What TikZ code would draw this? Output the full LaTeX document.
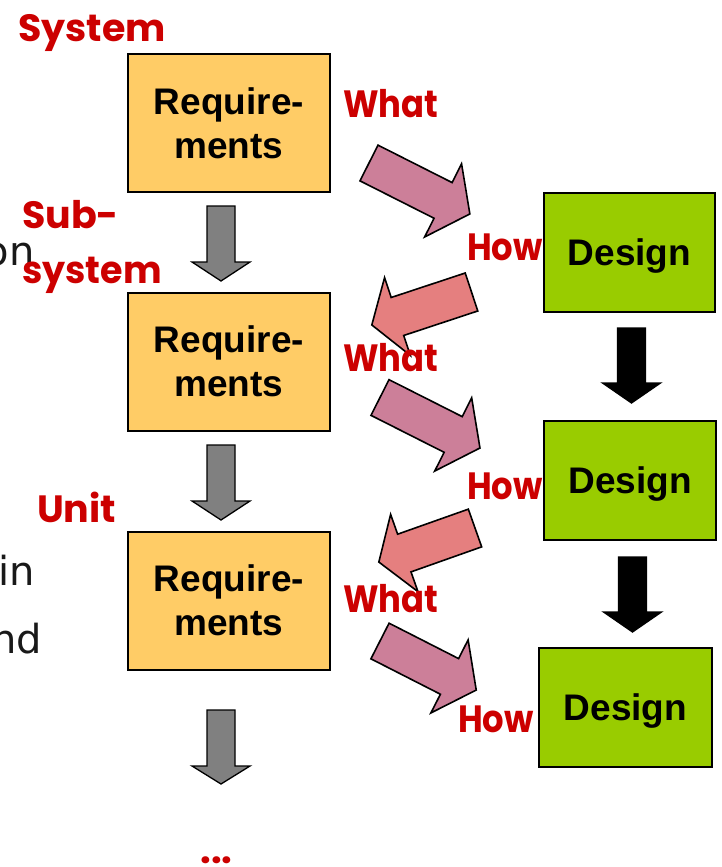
\documentclass[tikz,border=0pt]{standalone}
\usepackage{fontspec}
\setmainfont{Liberation Sans}
\newfontfamily\comicfont{Poppins}
\newfontfamily\leftfont{DejaVu Sans}
\definecolor{reqfill}{HTML}{FFCC66}
\definecolor{desfill}{HTML}{99CC00}
\definecolor{pinkarr}{HTML}{CC7F99}
\definecolor{salmonarr}{HTML}{E57F7F}
\definecolor{grayarr}{HTML}{808080}
\definecolor{redtxt}{HTML}{CC0000}
\newcommand\myblockarrow[6]{% tail x, tail y, angle, length, head base, fill
  \begin{scope}[shift={(#1,#2)},rotate=#3]
    \draw[fill=#6,line width=1.6pt,line join=miter]
      (0,-20) -- (#5,-20) -- (#5,-41) -- (#4,0) -- (#5,41) -- (#5,20) -- (0,20) -- cycle;
  \end{scope}}
\newcommand\mydownarrow[5]{% center x, top y, head base y, tip y, fill
  \draw[fill=#5,line width=1.3pt,line join=miter]
    ({#1-14},#2) -- ({#1+14},#2) -- ({#1+14},#3) -- ({#1+29},#3) -- (#1,#4)
    -- ({#1-29},#3) -- ({#1-14},#3) -- cycle;}
\newcommand\narrow[1]{\scalebox{0.89}[1]{#1}}
\tikzset{
  reqbox/.style={draw=black,line width=2pt,fill=reqfill,minimum width=202pt,minimum height=138pt,
    align=center,font=\fontsize{37}{44}\selectfont\bfseries,inner sep=0pt},
  desbox/.style={draw=black,line width=2pt,fill=desfill,minimum height=119pt,
    font=\fontsize{37}{44}\selectfont\bfseries,inner sep=0pt,text depth=0pt},
  redlbl/.style={text=redtxt,font=\fontsize{38}{42}\selectfont\comicfont\bfseries,inner sep=0pt},
  lefttxt/.style={text=black!90,font=\fontsize{40}{44}\selectfont\leftfont,inner sep=0pt,anchor=base east}
}
\begin{document}
\begin{tikzpicture}[x=1pt,y=-1pt]
\useasboundingbox (0,0) rectangle (721,867);
% left cut-off text
\node[lefttxt] (ton) at (35,265) {on};
\node[lefttxt] (tin) at (35,585) {in};
\node[lefttxt] (tnd) at (42,653) {nd};
% requirement boxes
\node[reqbox] (r1) at (229,123) {Require-\\ments};
\node[reqbox] (r2) at (229,361.5) {Require-\\ments};
\node[reqbox] (r3) at (229,600.5) {Require-\\ments};
% design boxes
\node[desbox,minimum width=171pt] (d1) at (629.5,252.5) {Design};
\node[desbox,minimum width=172pt] (d2) at (630,480.5) {Design};
\node[desbox,minimum width=173pt] (d3) at (625.5,707.5) {Design};
% gray down arrows
\mydownarrow{221}{206}{262}{281}{grayarr}
\mydownarrow{221}{445}{501}{520}{grayarr}
\mydownarrow{221}{710}{766}{784}{grayarr}
% black down arrows
\mydownarrow{631.5}{328}{383}{403}{black}
\mydownarrow{632.5}{557}{612}{632}{black}
% what/how block arrows
\myblockarrow{369}{163}{-26.8}{113}{83}{pinkarr}
\myblockarrow{471.5}{292}{198.3}{105}{78}{salmonarr}
\myblockarrow{380}{397.5}{-26.8}{112}{82}{pinkarr}
\myblockarrow{475}{528}{199.5}{102}{75}{salmonarr}
\myblockarrow{380}{641}{-27}{108}{78}{pinkarr}
% red labels
\node[redlbl,anchor=base west] (lsys) at (18,42) {System};
\node[redlbl,anchor=base west] (lsub) at (22,228) {Sub-};
\node[redlbl,anchor=base west] (lsubsys) at (22,283) {\scalebox{0.96}[1]{system}};
\node[redlbl,anchor=base west] (lunit) at (37,522) {Unit};
\node[redlbl,anchor=base west] (w1) at (343,117) {\narrow{What}};
\node[redlbl,anchor=base west] (w2) at (343,371) {\narrow{What}};
\node[redlbl,anchor=base west] (w3) at (343,612) {\narrow{What}};
\node[redlbl,anchor=base west] (h1) at (467,260) {\narrow{How}};
\node[redlbl,anchor=base west] (h2) at (467,499) {\narrow{How}};
\node[redlbl,anchor=base west] (h3) at (458,732) {\narrow{How}};
\node[redlbl,anchor=base] (dots) at (216.5,863) {...};
\end{tikzpicture}
\end{document}
